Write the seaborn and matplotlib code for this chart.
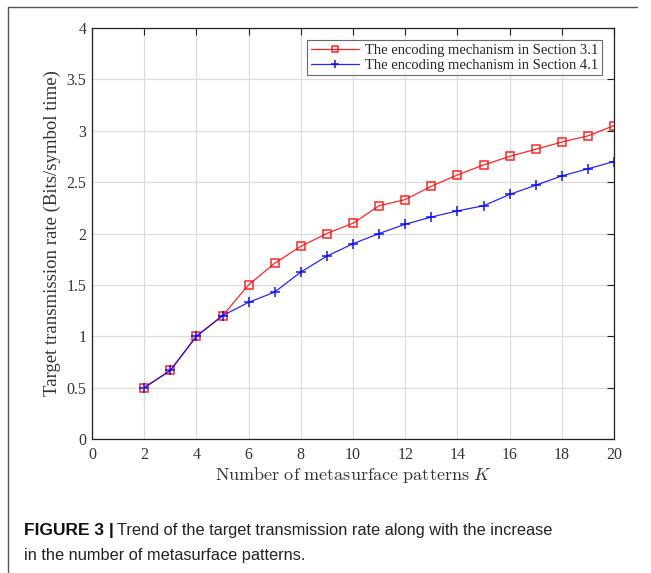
import numpy as np
import pandas as pd
import matplotlib
matplotlib.use("Agg")
import matplotlib.pyplot as plt
import seaborn as sns
from matplotlib.lines import Line2D

K = [2, 3, 4, 5, 6, 7, 8, 9, 10, 11, 12, 13, 14, 15, 16, 17, 18, 19, 20]
rate_31 = [0.5, 0.667, 1.0, 1.2, 1.5, 1.71, 1.875, 2.0, 2.1, 2.27, 2.33, 2.46,
           2.57, 2.667, 2.75, 2.82, 2.89, 2.95, 3.05]
rate_41 = [0.5, 0.667, 1.0, 1.2, 1.33, 1.43, 1.625, 1.78, 1.9, 2.0, 2.09, 2.16,
           2.22, 2.27, 2.38, 2.47, 2.56, 2.63, 2.70]
label_31 = "The encoding mechanism in Section 3.1"
label_41 = "The encoding mechanism in Section 4.1"
xticks = [0, 2, 4, 6, 8, 10, 12, 14, 16, 18, 20]
yticks = [0, 0.5, 1, 1.5, 2, 2.5, 3, 3.5, 4]
ytick_labels = ["0", "0.5", "1", "1.5", "2", "2.5", "3", "3.5", "4"]

sns.set_theme(style="white")
plt.rcParams['font.family'] = ['Liberation Serif', 'DejaVu Serif']
plt.rcParams['mathtext.fontset'] = 'cm'

df31 = pd.DataFrame({"K": K, "rate": rate_31})
df41 = pd.DataFrame({"K": K, "rate": rate_41})

fig = plt.figure(figsize=(6.51, 5.73), dpi=100)
W, H = 651, 573
ax = fig.add_axes([92 / W, 1 - 439 / H, (614 - 92) / W, (439 - 28) / H])

sns.lineplot(data=df31, x="K", y="rate", color="#ff0000", marker="s",
             markersize=6.2, markerfacecolor="none", markeredgecolor="#ff0000",
             markeredgewidth=1.1, linewidth=0.9, alpha=0.85, ax=ax, label=label_31)
sns.lineplot(data=df41, x="K", y="rate", color="#0000ff", marker="+",
             markersize=7.5, markeredgecolor="#0000ff",
             markeredgewidth=1.2, linewidth=0.9, alpha=0.85, ax=ax, label=label_41)

ax.set_xlim(0, 20)
ax.set_ylim(0, 4)
ax.set_xticks(xticks)
ax.set_yticks(yticks)
ax.set_yticklabels(ytick_labels)
ax.grid(True, color="#dcdcdc", linewidth=0.9)
ax.set_axisbelow(True)
for s in ax.spines.values():
    s.set_color("#222222")
    s.set_linewidth(0.9)
    s.set_visible(True)
ax.tick_params(direction="in", length=5, width=0.8, top=True, right=True,
               labelsize=11.5, colors="#222222", labelcolor="#333333")
ax.tick_params(axis="y", pad=4)
ax.tick_params(axis="x", pad=6)
ax.set_xlabel(r"$\mathrm{Number\ of\ metasurface\ patterns}\ K$", fontsize=13,
              color="#333333", labelpad=1)
ax.set_ylabel("Target transmission rate (Bits/symbol time)", fontsize=13.5,
              color="#333333", labelpad=4)

leg = ax.legend(loc="upper right",
                bbox_to_anchor=(1 - 12 / 522, 1 - 12 / 411), fontsize=10.5, frameon=True,
                fancybox=False, handlelength=3.3, borderpad=0.25, borderaxespad=0.0,
                labelspacing=0.12, handletextpad=0.4, markerscale=0.8)
leg.get_frame().set_edgecolor("#444444")
leg.get_frame().set_linewidth(0.8)

# figure frame (top and left rules)
fig.add_artist(Line2D([8 / W, 637 / W], [1 - 7 / H, 1 - 7 / H], color="#555555", linewidth=1.0))
fig.add_artist(Line2D([8 / W, 8 / W], [1 - 7 / H, 0], color="#555555", linewidth=1.0))

cap_font = ['Liberation Sans Narrow', 'Liberation Sans', 'DejaVu Sans']
fig.text(24 / W, 1 - 535 / H, "FIGURE 3 |", fontsize=12.5, fontweight="bold",
         family=cap_font, color="#111111", va="baseline")
fig.text(117 / W, 1 - 535 / H, "Trend of the target transmission rate along with the increase",
         fontsize=11.75, family=cap_font, color="#222222", va="baseline")
fig.text(24 / W, 1 - 560 / H, "in the number of metasurface patterns.",
         fontsize=11.75, family=cap_font, color="#222222", va="baseline")

fig.savefig("out.png", dpi=100)
